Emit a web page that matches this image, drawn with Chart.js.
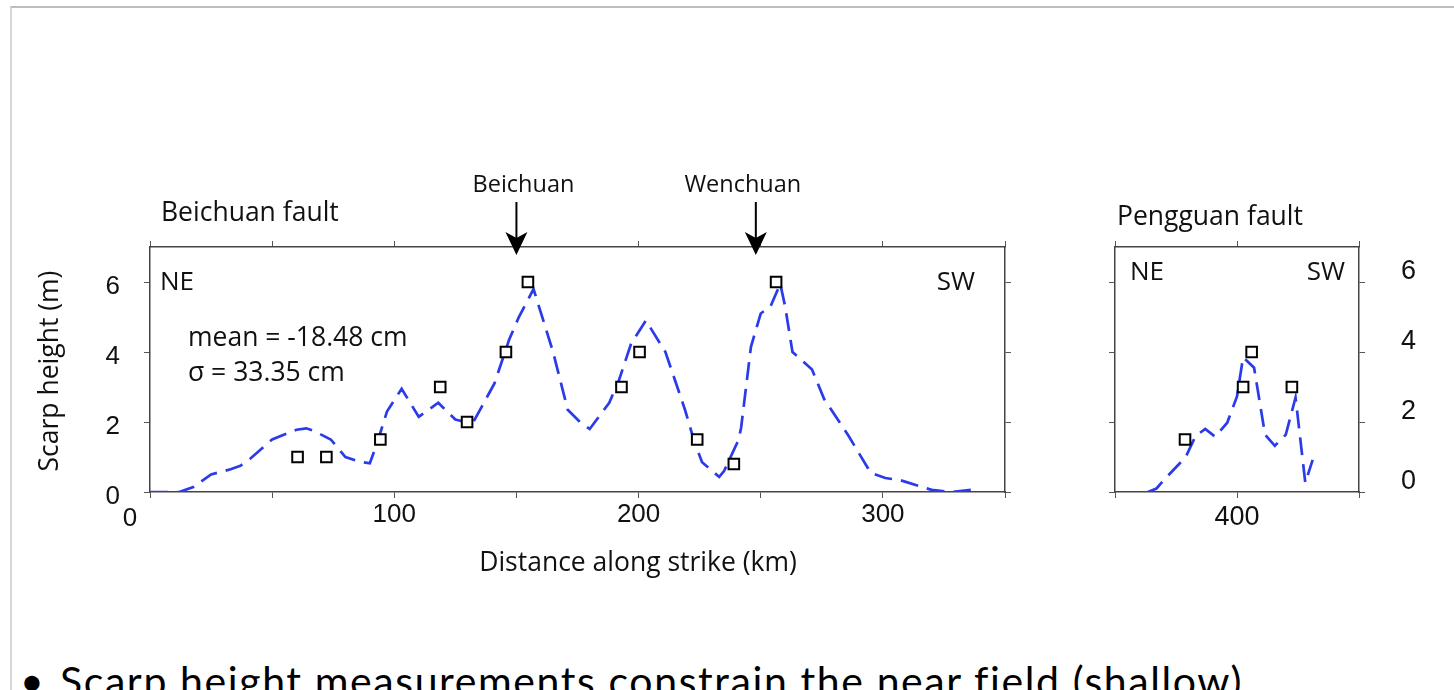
<!DOCTYPE html>
<html>
<head>
<meta charset="utf-8">
<script src="https://cdn.jsdelivr.net/npm/chart.js@4.4.1/dist/chart.umd.min.js"></script>
<style>
  body { margin: 0; background: #fff; width: 1454px; height: 690px; overflow: hidden; position: relative; }
  .slide { position: absolute; left: 10px; top: 6px; right: 0; bottom: 0; border-top: 2px solid #bdbdbd; border-left: 2px solid #d6d6d6; }
  .box { position: absolute; top: 0; height: 600px; }
  #left-box { left: 0; width: 1070px; }
  #right-box { left: 1070px; width: 384px; }
  .bullet { position: absolute; left: 20px; top: 661px; font-family: Lato, "Open Sans", sans-serif; font-size: 41px; line-height: 40px; letter-spacing: 1.6px; color: #000; white-space: nowrap; }
  .bullet span { display: inline-block; width: 40px; letter-spacing: 0; }
</style>
</head>
<body>
<div class="slide"></div>
<div class="box" id="left-box"><canvas id="beichuan-chart"></canvas></div>
<div class="box" id="right-box"><canvas id="pengguan-chart"></canvas></div>
<div class="bullet"><span>•</span>Scarp height measurements constrain the near field (shallow)</div>

<script>
// Beichuan fault: dashed profile (km, m) and measured scarps
const beichuan_km = [0, 12, 18, 25, 33, 37, 41, 50, 60, 64, 67, 74, 80, 86, 90, 93, 97, 103, 110, 118, 125, 132, 141, 147, 151, 157, 165, 171, 176, 180, 188, 192, 197, 203, 211, 219, 223, 226, 233, 235, 241, 242, 246, 250, 254, 258, 260, 263, 271, 276, 286, 295, 301, 307, 320, 328, 336]
const beichuan_profile = [0, 0, 0.15, 0.5, 0.65, 0.75, 0.95, 1.5, 1.78, 1.82, 1.75, 1.5, 1.0, 0.86, 0.82, 1.4, 2.3, 2.95, 2.15, 2.55, 2.07, 1.95, 3.1, 4.35, 5.0, 5.8, 4.0, 2.35, 2.0, 1.8, 2.55, 3.2, 4.25, 4.9, 4.0, 2.35, 1.4, 0.85, 0.43, 0.6, 1.5, 1.85, 4.15, 5.1, 5.3, 5.95, 5.3, 4.0, 3.5, 2.65, 1.6, 0.55, 0.4, 0.34, 0.06, 0, 0.06]
const beichuan_scarp_km = [60.4, 72.2, 94.3, 118.8, 129.8, 145.7, 154.7, 193, 200.4, 224, 239, 256.3]
const beichuan_scarp_m = [1, 1, 1.5, 3, 2, 4, 6, 3, 4, 1.5, 0.8, 6]

// Pengguan fault
const pengguan_km = [363.5, 367, 370, 379, 383, 387, 391, 396, 400, 402.5, 407, 411.5, 415.5, 420, 424, 428, 431]
const pengguan_profile = [0, 0.1, 0.34, 1.0, 1.6, 1.8, 1.58, 1.98, 2.73, 3.85, 3.55, 1.64, 1.32, 1.64, 2.7, 0.26, 0.92]
const pengguan_scarp_km = [378.7, 402.5, 406, 422.5]
const pengguan_scarp_m = [1.5, 3, 4, 3]

// towns marked with arrows above the Beichuan panel
const towns = ['Beichuan', 'Wenchuan']
const town_km = [150, 248]

const stats_text = ['mean = -18.48 cm', 'σ = 33.35 cm']

const BLUE = '#2b3bea'
const FRAME = '#444'
const TXT = "'Open Sans', 'Noto Sans', sans-serif"
const NUM = "'Liberation Sans', Arial, sans-serif"

const toXY = (xs, ys) => xs.map((x, i) => ({ x: x, y: ys[i] }))

const text = (ctx, str, x, y, size, align) => {
  ctx.save()
  ctx.font = size + 'px ' + TXT
  ctx.fillStyle = '#111'
  ctx.textAlign = align || 'left'
  ctx.textBaseline = 'middle'
  ctx.fillText(str, x, y)
  ctx.restore()
}

const profileSet = (data) => ({
  type: 'scatter',
  data: data,
  showLine: true,
  borderColor: BLUE,
  borderWidth: 2.7,
  borderDash: [18, 9],
  pointRadius: 0,
  order: 2
})

const scarpSet = (data) => ({
  type: 'scatter',
  data: data,
  pointStyle: 'rect',
  pointRadius: 7.5,
  pointBorderColor: '#000',
  pointBackgroundColor: '#fff',
  pointBorderWidth: 2,
  order: 1
})

const frameAxis = (extra) => Object.assign({
  type: 'linear',
  grid: { drawOnChartArea: false, drawTicks: true, tickLength: 6, color: '#555', lineWidth: 1 },
  border: { display: true, color: FRAME, width: 1.5 },
}, extra)

const beichuanLabels = {
  id: 'beichuanLabels',
  afterDraw(chart) {
    const ctx = chart.ctx
    const xs = chart.scales.x
    const area = chart.chartArea
    text(ctx, 'Beichuan fault', 161, 213, 26.5)
    // town arrows
    const dx = [7, -13]
    towns.forEach((t, i) => {
      const px = xs.getPixelForValue(town_km[i])
      text(ctx, t, px + dx[i], 185, 23.5, 'center')
      ctx.save()
      ctx.strokeStyle = '#000'
      ctx.fillStyle = '#000'
      ctx.lineWidth = 2
      ctx.beginPath()
      ctx.moveTo(px, 202)
      ctx.lineTo(px, 240)
      ctx.stroke()
      ctx.beginPath()
      ctx.moveTo(px - 11, 232)
      ctx.lineTo(px, 238)
      ctx.lineTo(px + 11, 232)
      ctx.lineTo(px, 255)
      ctx.closePath()
      ctx.fill()
      ctx.restore()
    })
    text(ctx, 'NE', 160, 283, 26)
    text(ctx, 'SW', area.right - 30, 283, 26, 'right')
    text(ctx, stats_text[0], 188, 338, 26.5)
    text(ctx, stats_text[1], 188, 373, 26.5)
    // axis titles
    text(ctx, 'Distance along strike (km)', 638, 563, 26.5, 'center')
    ctx.save()
    ctx.translate(50, 371)
    ctx.rotate(-Math.PI / 2)
    text(ctx, 'Scarp height (m)', 0, 0, 26.5, 'center')
    ctx.restore()
    // zero of the distance axis sits left of the corner
    ctx.save()
    ctx.font = '26px ' + NUM
    ctx.fillStyle = '#111'
    ctx.textAlign = 'center'
    ctx.textBaseline = 'middle'
    ctx.fillText('0', 130, 519)
    ctx.restore()
  }
}

new Chart(document.getElementById('beichuan-chart'), {
  type: 'scatter',
  data: {
    datasets: [
      profileSet(toXY(beichuan_km, beichuan_profile)),
      scarpSet(toXY(beichuan_scarp_km, beichuan_scarp_m))
    ]
  },
  options: {
    responsive: true,
    maintainAspectRatio: false,
    animation: false,
    layout: { padding: 0 },
    plugins: { legend: { display: false }, tooltip: { enabled: false } },
    scales: {
      x: frameAxis({
        position: 'bottom', min: 0, max: 350,
        ticks: { stepSize: 50, padding: 1, color: '#111', font: { family: NUM, size: 26 },
          callback: v => (v % 100 === 0 && v !== 0) ? v : '' },
        afterFit: s => { s.height = 108 }
      }),
      xTop: frameAxis({
        axis: 'x', position: 'top', min: 0, max: 350,
        ticks: { stepSize: 50, callback: () => '' },
        afterFit: s => { s.height = 247 }
      }),
      y: frameAxis({
        position: 'left', min: 0, max: 7,
        ticks: { stepSize: 2, includeBounds: false, padding: 24, labelOffset: 5, color: '#111', font: { family: NUM, size: 26 } },
        afterFit: s => { s.width = 150 }
      }),
      yRight: frameAxis({
        axis: 'y', position: 'right', min: 0, max: 7,
        ticks: { stepSize: 2, includeBounds: false, callback: () => '' },
        afterFit: s => { s.width = 65 }
      })
    }
  },
  plugins: [beichuanLabels]
});

const pengguanLabels = {
  id: 'pengguanLabels',
  afterDraw(chart) {
    const ctx = chart.ctx
    text(ctx, 'Pengguan fault', 47, 217, 26.5)
    text(ctx, 'NE', 60, 273, 26)
    text(ctx, 'SW', 275, 273, 26, 'right')
  }
}

new Chart(document.getElementById('pengguan-chart'), {
  type: 'scatter',
  data: {
    datasets: [
      profileSet(toXY(pengguan_km, pengguan_profile)),
      scarpSet(toXY(pengguan_scarp_km, pengguan_scarp_m))
    ]
  },
  options: {
    responsive: true,
    maintainAspectRatio: false,
    animation: false,
    layout: { padding: 0 },
    plugins: { legend: { display: false }, tooltip: { enabled: false } },
    scales: {
      x: frameAxis({
        position: 'bottom', min: 350, max: 450,
        ticks: { stepSize: 50, padding: 3, color: '#111', font: { family: NUM, size: 27 },
          callback: v => v === 400 ? v : '' },
        afterFit: s => { s.height = 108 }
      }),
      xTop: frameAxis({
        axis: 'x', position: 'top', min: 350, max: 450,
        ticks: { stepSize: 50, callback: () => '' },
        afterFit: s => { s.height = 247 }
      }),
      y: frameAxis({
        position: 'left', min: 0, max: 7,
        ticks: { stepSize: 2, includeBounds: false, callback: () => '' },
        afterFit: s => { s.width = 45 }
      }),
      yRight: frameAxis({
        axis: 'y', position: 'right', min: 0, max: 7,
        ticks: { stepSize: 2, includeBounds: false, padding: 36, labelOffset: -10, color: '#111', font: { family: NUM, size: 27 } },
        afterFit: s => { s.width = 95 }
      })
    }
  },
  plugins: [pengguanLabels]
});
</script>
</body>
</html>
